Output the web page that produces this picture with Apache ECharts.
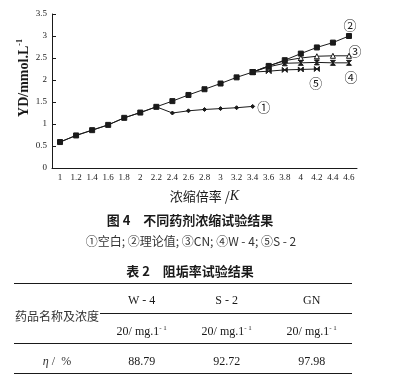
<!DOCTYPE html>
<html><head><meta charset="utf-8">
<script src="https://cdn.jsdelivr.net/npm/echarts@6/dist/echarts.min.js"></script>
<style>html,body{margin:0;padding:0;background:#fff}#c{width:393px;height:392px}</style>
</head><body><div id="c"></div>
<script>
const categories = ['1','1.2','1.4','1.6','1.8','2','2.2','2.4','2.6','2.8','3','3.2','3.4','3.6','3.8','4','4.2','4.4','4.6'];
const blank  = [0.59,0.74,0.86,0.98,1.14,1.26,1.39,1.25,1.30,1.33,1.35,1.37,1.40,null,null,null,null,null,null];
const theory = [0.59,0.74,0.86,0.98,1.14,1.26,1.39,1.52,1.66,1.79,1.92,2.06,2.18,2.32,2.45,2.60,2.74,2.85,3.00];
const cn     = [null,null,null,null,null,null,null,null,null,null,null,null,2.18,2.32,2.44,2.50,2.54,2.55,2.55];
const w4     = [null,null,null,null,null,null,null,null,null,null,null,null,2.18,2.30,2.38,2.39,2.40,2.39,2.39];
const s2     = [null,null,null,null,null,null,null,null,null,null,null,null,2.18,2.20,2.23,2.24,2.25,null,null];
const yTicks = [0,0.5,1,1.5,2,2.5,3,3.5];
const tableDrugs = ['W - 4','S - 2','GN'];
const tableConc = ['20','20','20'];
const tableEta = ['88.79','92.72','97.98'];

const serif = "'Liberation Serif','DejaVu Serif',serif";
const cjk = "'Noto Sans CJK SC',sans-serif";
const ink = '#1a1a1a';

function lastIdx(arr){let k=-1;arr.forEach((v,i)=>{if(v!=null)k=i;});return k;}
function mk(name,data,symbol,size,tag,offset,extra){
  const li=lastIdx(data);
  return Object.assign({
    type:'line',name,data,symbol,symbolSize:size,
    lineStyle:{color:ink,width:1},
    itemStyle:{color:ink,borderColor:ink,borderWidth:1},
    connectNulls:false,
    label:{show:true,position:'inside',offset,
      formatter:p=>p.dataIndex===li?tag:'',
      fontFamily:cjk,fontSize:13,color:ink},
    z:2
  },extra||{});
}

const chart = echarts.init(document.getElementById('c'),null,{renderer:'canvas'});
const hourV = 'path://M0,0L10,0L0,10L10,10Z';
const bowH  = 'path://M0,0L0,10L10,0L10,10Z';

const colX = [141.7,226.7,311.7];
const graphics = [
  {type:'text',rotation:Math.PI/2,x:24,y:78,style:{
    text:'{a|YD/mmol.L}{s|-1}',align:'center',verticalAlign:'middle',
    rich:{a:{fontFamily:serif,fontSize:14,fontWeight:'bold',fill:ink},
          s:{fontFamily:serif,fontSize:8,fontWeight:'bold',fill:ink,verticalAlign:'top',padding:[0,0,8,0]}}}},
  {type:'text',x:190,y:220,style:{text:'图 4　不同药剂浓缩试验结果',fontFamily:cjk,fontSize:13,fontWeight:'bold',fill:ink,align:'center',verticalAlign:'middle'}},
  {type:'text',x:191,y:241,style:{text:'①空白; ②理论值; ③CN; ④W - 4; ⑤S - 2',fontFamily:cjk,fontSize:12,fill:'#333',align:'center',verticalAlign:'middle'}},
  {type:'text',x:190,y:271,style:{text:'表 2　阻垢率试验结果',fontFamily:cjk,fontSize:13,fontWeight:'bold',fill:ink,align:'center',verticalAlign:'middle'}},
  {type:'line',shape:{x1:14,y1:283.5,x2:352,y2:283.5},style:{stroke:ink,lineWidth:1.2}},
  {type:'line',shape:{x1:100,y1:313.5,x2:352,y2:313.5},style:{stroke:ink,lineWidth:1}},
  {type:'line',shape:{x1:14,y1:343.5,x2:352,y2:343.5},style:{stroke:ink,lineWidth:1}},
  {type:'line',shape:{x1:14,y1:373.5,x2:352,y2:373.5},style:{stroke:ink,lineWidth:1.2}},
  {type:'text',x:57,y:316,style:{text:'药品名称及浓度',fontFamily:cjk,fontSize:12,fill:'#333',align:'center',verticalAlign:'middle'}},
  {type:'text',x:57,y:362,style:{text:'{i|η}{n| /  %}',align:'center',verticalAlign:'middle',
    rich:{i:{fontFamily:serif,fontStyle:'italic',fontSize:12,fill:'#333'},n:{fontFamily:serif,fontSize:12,fill:'#333'}}}}
];
tableDrugs.forEach((d,i)=>{
  graphics.push({type:'text',x:colX[i],y:301,style:{text:d,fontFamily:serif,fontSize:12,fill:ink,align:'center',verticalAlign:'middle'}});
  graphics.push({type:'text',x:colX[i],y:332,style:{text:'{a|'+tableConc[i]+'/ mg.1}{s|- 1}',align:'center',verticalAlign:'middle',
    rich:{a:{fontFamily:serif,fontSize:12,fill:ink},s:{fontFamily:serif,fontSize:7,fill:ink,verticalAlign:'top',padding:[0,0,7,0]}}}});
  graphics.push({type:'text',x:colX[i],y:362,style:{text:tableEta[i],fontFamily:serif,fontSize:12,fill:ink,align:'center',verticalAlign:'middle'}});
});

chart.setOption({
  animation:false,
  backgroundColor:'#fff',
  grid:{left:52,top:14,right:36,bottom:224,containLabel:false},
  xAxis:{type:'category',data:categories,boundaryGap:true,
    axisLine:{lineStyle:{color:ink,width:1}},
    axisTick:{inside:true,length:3,alignWithLabel:true,lineStyle:{color:ink}},
    axisLabel:{fontFamily:serif,fontSize:9,color:ink,margin:5,interval:0},
    name:'{a|浓缩倍率 /}{k|K}',nameLocation:'middle',nameGap:21,
    nameTextStyle:{rich:{a:{fontFamily:cjk,fontSize:13,color:ink},k:{fontFamily:serif,fontStyle:'italic',fontSize:14,color:ink}}}
  },
  yAxis:{type:'value',min:yTicks[0],max:yTicks[yTicks.length-1],interval:0.5,
    axisLine:{show:true,lineStyle:{color:ink,width:1}},
    axisTick:{show:true,inside:true,length:4,lineStyle:{color:ink}},
    splitLine:{show:false},
    axisLabel:{fontFamily:serif,fontSize:9,color:ink,margin:5}
  },
  series:[
    mk('空白',blank,'diamond',4,'①',[11,1]),
    mk('理论值',theory,'rect',5,'②',[1,-11],{z:3}),
    mk('CN',cn,'triangle',5,'③',[6,-5],{itemStyle:{color:'#fff',borderColor:ink,borderWidth:1}}),
    mk('W-4',w4,hourV,5,'④',[2,14]),
    mk('S-2',s2,bowH,5,'⑤',[-1,14])
  ],
  graphic:graphics
});
</script></body></html>
